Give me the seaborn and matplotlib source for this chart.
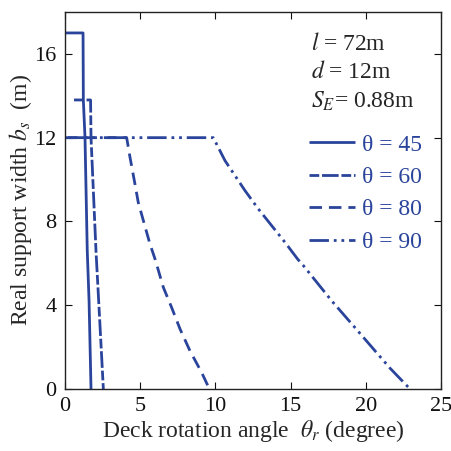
import matplotlib
matplotlib.use("Agg")
import matplotlib.pyplot as plt
import seaborn as sns
import pandas as pd

# Real support width b_s versus deck rotation angle, for four skew angles
theta45_x = [0, 1.2, 1.22, 1.33, 1.48, 1.6, 1.73]
theta45_y = [17, 17, 13.8, 12, 6.6, 4.2, 0]

theta60_x = [0.6, 1.7, 1.73, 2.06, 2.37, 2.55]
theta60_y = [13.8, 13.8, 12, 6.6, 2.45, 0]

theta80_x = [0, 4.1, 4.32, 4.65, 4.87, 5.21, 5.65, 5.98, 6.54, 7.09, 7.65, 8.31, 9.09, 9.6]
theta80_y = [12, 12, 11.07, 9.79, 8.91, 8.04, 6.92, 6.22, 4.85, 3.89, 2.86, 1.82, 0.78, 0]

theta90_x = [0.2, 9.86, 10.64, 11.97, 12.85, 14.63, 15.47, 15.85, 17.73, 19.28, 21.6, 22.94]
theta90_y = [12, 12, 10.9, 9.47, 8.6, 7.0, 6.2, 5.89, 4.21, 2.93, 1.0, 0]

labels = ["θ = 45", "θ = 60", "θ = 80", "θ = 90"]
x_ticks = [0, 5, 10, 15, 20, 25]
y_ticks = [0, 4, 8, 12, 16]

sns.set_style("ticks")
plt.rcParams["font.family"] = ["Liberation Serif", "DejaVu Serif"]
plt.rcParams["mathtext.fontset"] = "stix"
plt.rcParams["lines.scale_dashes"] = False

blue = "#2a449b"
lw = 2.0
patterns = [None, (7, 2, 12, 2), (9, 5), (14, 3.5, 2, 3.5, 2, 3.5)]

fig = plt.figure(figsize=(4.52, 4.51), dpi=100)
ax = fig.add_axes([0.1438, 0.1375, 0.8319, 0.8359])

series = [(theta45_x, theta45_y), (theta60_x, theta60_y),
          (theta80_x, theta80_y), (theta90_x, theta90_y)]
for (xs, ys), lab, pat in zip(series, labels, patterns):
    df = pd.DataFrame({"rot": xs, "bs": ys})
    sns.lineplot(data=df, x="rot", y="bs", sort=False, estimator=None,
                 color=blue, lw=lw, ax=ax, label=lab)
    line = ax.lines[-1]
    if pat is not None:
        line.set_dashes(pat)
    line.set_solid_capstyle("butt")
    line.set_dash_capstyle("butt")

ax.set_xlim(0, 25)
ax.set_ylim(0, 18)
ax.set_xticks(x_ticks)
ax.set_yticks(y_ticks)
ax.tick_params(direction="in", length=5, width=0.8, top=True, right=True,
               labelsize=16, colors="#111111", pad=6)
for s in ax.spines.values():
    s.set_linewidth(1.0)
    s.set_color("#222222")

ax.set_xlabel(r"Deck rotation angle  $\theta_r$ (degree)", fontsize=17, labelpad=1)
ax.set_ylabel(r"Real support width $b_s$  (m)", fontsize=17, labelpad=0)

ax.text(0.655, 0.899, r"$l$ = 72m", transform=ax.transAxes, fontsize=17)
ax.text(0.655, 0.825, r"$d$ = 12m", transform=ax.transAxes, fontsize=17)
ax.text(0.655, 0.745, r"$S_E$= 0.88m", transform=ax.transAxes, fontsize=17)

leg = ax.legend(loc="upper left", bbox_to_anchor=(0.649, 0.676), frameon=False,
                fontsize=17, handlelength=1.95, handletextpad=0.3,
                labelspacing=0.46, borderaxespad=0, borderpad=0)
for t in leg.get_texts():
    t.set_color(blue)

fig.savefig("out.png", dpi=100)
